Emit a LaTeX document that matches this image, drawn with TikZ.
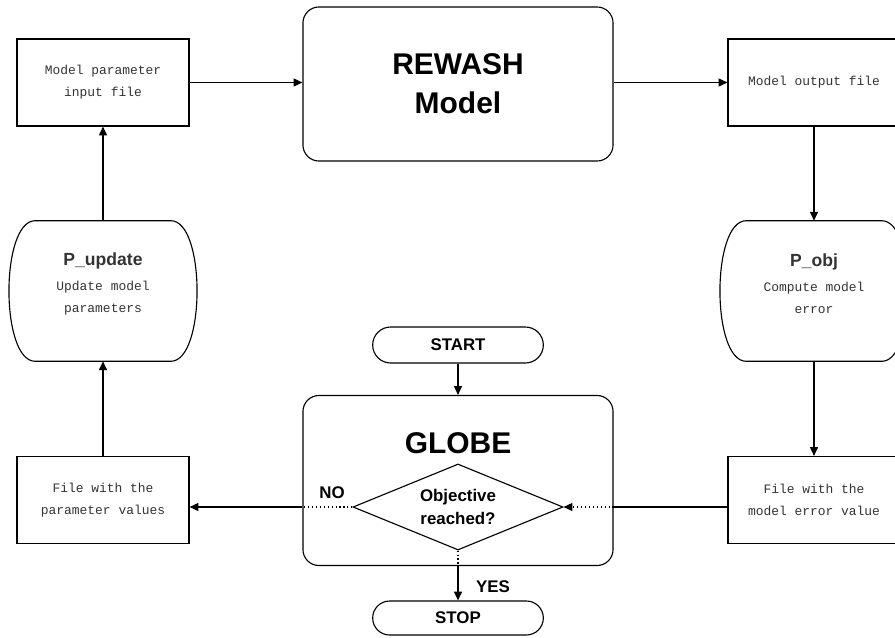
\documentclass[tikz,border=0pt]{standalone}
\usepackage{fontspec}
\setmainfont{Liberation Sans}
\newfontfamily\monofont{Liberation Mono}
\usetikzlibrary{arrows.meta,shapes.geometric,shapes.misc}

\begin{document}
\begin{tikzpicture}[x=0.025cm,y=-0.025cm]
        % Block style definitions
        \tikzset{
            filebox/.style={draw, line width=0.8pt, minimum width=4.3cm, minimum height=2.175cm, align=center, font=\monofont\fontsize{9.2}{15.6}\selectfont, text=black!80},
            mainbox/.style={draw, line width=0.8pt, rounded corners=0.4cm, minimum width=7.75cm, align=center, font=\bfseries\fontsize{21.3}{27.7}\selectfont},
            terminal/.style={draw, line width=0.8pt, rounded rectangle, minimum width=4.5cm, minimum height=0.9cm, font=\bfseries\fontsize{12}{14}\selectfont},
            procshape/.style={minimum width=3.375cm, minimum height=3.5cm},
            proctext/.style={align=center, font=\monofont\fontsize{9.2}{15.6}\selectfont, text=black!80},
            flow/.style={line width=0.8pt, -{Triangle[length=0.22cm,width=0.2cm]}},
            dots/.style={line width=0.8pt, dotted},
            tag/.style={font=\bfseries\fontsize{12}{14}\selectfont}
        }
        \useasboundingbox (0,0) rectangle (895,638);

        % ==========================================
        % TOP ROW
        % ==========================================
        \node[filebox] (parbox) at (103,82.5) {Model parameter\\input file};
        \node[mainbox, minimum height=3.85cm] (rewash) at (458,84) {REWASH\\Model};
        \node[filebox] (outbox) at (814,82.5) {Model output file};

        % ==========================================
        % PROCESS BLOCKS (bulged sides)
        % ==========================================
        \node[procshape] (pupd) at (103,291) {};
        \node[procshape] (pobj) at (814,291) {};
        \draw[line width=0.8pt] (pupd.north west) -- (pupd.north east) .. controls +(0.875cm,0) and +(0.875cm,0) .. (pupd.south east) -- (pupd.south west) .. controls +(-0.875cm,0) and +(-0.875cm,0) .. (pupd.north west);
        \draw[line width=0.8pt] (pobj.north west) -- (pobj.north east) .. controls +(0.875cm,0) and +(0.875cm,0) .. (pobj.south east) -- (pobj.south west) .. controls +(-0.875cm,0) and +(-0.875cm,0) .. (pobj.north west);
        \node[proctext] (pupdtext) at (103,284) {{\normalfont\bfseries\fontsize{12.5}{15}\selectfont P\_update}\\[2pt]Update model\\parameters};
        \node[proctext] (pobjtext) at (814,284) {{\normalfont\bfseries\fontsize{12.5}{15}\selectfont P\_obj}\\[2pt]Compute model\\error};

        % ==========================================
        % BOTTOM ROW
        % ==========================================
        \node[filebox] (parval) at (103,500) {File with the\\parameter values};
        \node[filebox] (errbox) at (814,500) {File with the\\model error value};

        \node[terminal] (start) at (458,345) {START};
        \node[mainbox, minimum height=4.25cm] (globe) at (458,480.5) {};
        \node[font=\bfseries\fontsize{21.3}{25}\selectfont] (globetitle) at (458,443) {GLOBE};
        \node[draw, line width=0.8pt, diamond, aspect=2.44, inner sep=0pt, minimum width=5.25cm, minimum height=2.15cm, align=center, font=\bfseries\fontsize{12}{16.4}\selectfont] (objective) at (458,507) {Objective\\reached?};
        \node[terminal, minimum height=0.85cm] (stop) at (458,618) {STOP};

        \node[tag] (nolabel) at (332,493) {NO};
        \node[tag] (yeslabel) at (493,587) {YES};

        % Connectors
        \draw[flow] (parbox) -- (parbox -| rewash.west);
        \draw[flow] (outbox -| rewash.east) -- (outbox.west);
        \draw[flow] (outbox.south) -- (pobj.north);
        \draw[flow] (pobj.south) -- (errbox.north);
        \draw[flow] (parval.north) -- (pupd.south);
        \draw[flow] (pupd.north) -- (parbox.south);
        \draw[flow] (start.south) -- (globe.north);

        \draw[dots] (objective.west) -- (objective.west -| globe.west);
        \draw[flow] (objective.west -| globe.west) -- (objective.west -| parval.east);
        \draw[line width=0.8pt] (objective.east -| errbox.west) -- (objective.east -| globe.east);
        \draw[dots, -{Triangle[length=0.22cm,width=0.2cm]}] (objective.east -| globe.east) -- (objective.east);
        \draw[dots] (objective.south) -- (globe.south);
        \draw[flow] (globe.south) -- (stop.north);
    \end{tikzpicture}
\end{document}
